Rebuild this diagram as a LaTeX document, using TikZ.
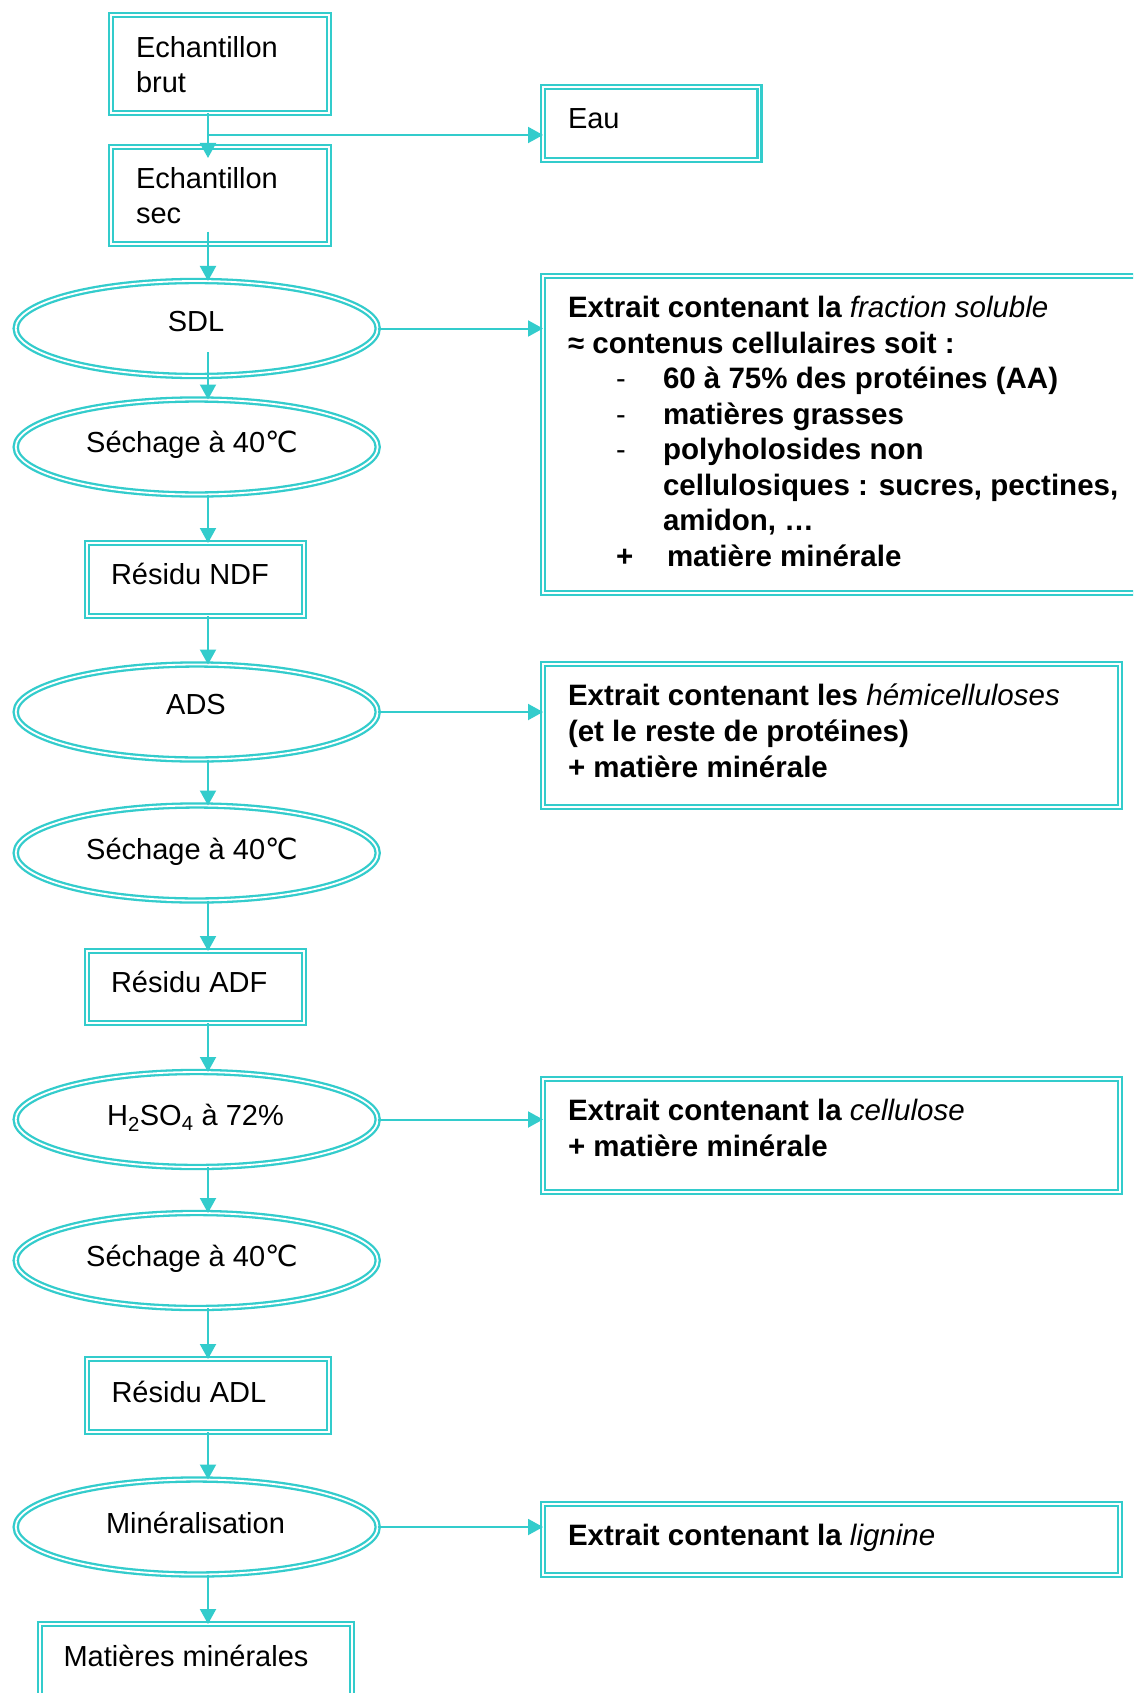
\documentclass[tikz,border=0pt]{standalone}
\usepackage{fontspec}
\setmainfont{Liberation Sans}
\newfontfamily\dejavu{DejaVu Sans}
\usetikzlibrary{arrows.meta,shapes.geometric}
\definecolor{tq}{RGB}{51,204,204}
\newcommand{\degC}{{\dejavu ℃}}
\begin{document}
\begin{tikzpicture}[x=1pt,y=-1pt,
  dbox/.style={draw=tq, double=white, line width=2.3pt, double distance=1.8pt, inner sep=0pt, outer sep=0pt, rectangle},
  dell/.style={draw=tq, double=white, line width=2.3pt, double distance=1.8pt, inner sep=0pt, outer sep=0pt, ellipse, minimum width=362pt, minimum height=95pt},
  lbl/.style={inner sep=0pt, outer sep=0pt, anchor=base west, yshift=-1.5pt, font=\fontsize{29}{34}\selectfont},
  clbl/.style={lbl, anchor=base},
  blbl/.style={lbl, font=\fontsize{29.5}{34}\selectfont\bfseries},
  arr/.style={draw=tq, line width=2pt, -{Triangle[width=16pt,length=15pt]}}
]
\clip (0,0) rectangle (1133,1693);
\fill[white] (0,0) rectangle (1133,1693);

% boxes
\node[dbox, minimum width=218pt, minimum height=98pt] (brut) at (220,64) {};
\node[dbox, minimum width=218pt, minimum height=97pt] (sec) at (220,195.5) {};
\node[dbox, minimum width=216.5pt, minimum height=73pt] (eau) at (651.25,123.5) {};
\node[dbox, minimum width=597pt, minimum height=317pt] (ext1) at (841.5,434.5) {};
\node[dbox, minimum width=217pt, minimum height=73pt] (ndf) at (195.5,579.5) {};
\node[dbox, minimum width=577pt, minimum height=143pt] (ext2) at (831.5,735.5) {};
\node[dbox, minimum width=217pt, minimum height=72pt] (adf) at (195.5,987) {};
\node[dbox, minimum width=577pt, minimum height=113pt] (ext3) at (831.5,1135.5) {};
\node[dbox, minimum width=242pt, minimum height=73pt] (adl) at (208,1395.5) {};
\node[dbox, minimum width=577pt, minimum height=71pt] (ext4) at (831.5,1539.5) {};
\node[dbox, minimum width=312pt, minimum height=86pt] (mat) at (196,1667) {};

% ellipses
\node[dell] (sdl) at (196.7,328.5) {};
\node[dell] (sech1) at (196.7,447) {};
\node[dell] (ads) at (196.7,712) {};
\node[dell] (sech2) at (196.7,853) {};
\node[dell] (hso) at (196.7,1119.5) {};
\node[dell] (sech3) at (196.7,1260.5) {};
\node[dell] (mineral) at (196.7,1527) {};

% helper coordinates
\coordinate (col) at (208,0);
\coordinate (br) at (208,135);
\coordinate (secin) at (208,158);
\coordinate (secout) at (208,231.7);
\coordinate (sdlout) at (208,352);

% connectors
\draw[arr] (col |- brut.south) -- (secin);
\draw[arr] (br) -- (br -| eau.west);
\draw[arr] (secout) -- (col |- sdl.north);
\draw[arr] (sdlout) -- (col |- sech1.north);
\draw[arr] (col |- sech1.south) -- (col |- ndf.north);
\draw[arr] (col |- ndf.south) -- (col |- ads.north);
\draw[arr] (col |- ads.south) -- (col |- sech2.north);
\draw[arr] (col |- sech2.south) -- (col |- adf.north);
\draw[arr] (col |- adf.south) -- (col |- hso.north);
\draw[arr] (col |- hso.south) -- (col |- sech3.north);
\draw[arr] (col |- sech3.south) -- (col |- adl.north);
\draw[arr] (col |- adl.south) -- (col |- mineral.north);
\draw[arr] (col |- mineral.south) -- (col |- mat.north);
\draw[arr] (sdl.east) -- (sdl.east -| ext1.west);
\draw[arr] (ads.east) -- (ads.east -| ext2.west);
\draw[arr] (hso.east) -- (hso.east -| ext3.west);
\draw[arr] (mineral.east) -- (mineral.east -| ext4.west);

% left column texts
\node[lbl] (t-brut1) at (136,56) {Echantillon};
\node[lbl] (t-brut2) at (136,90.7) {brut};
\node[lbl] (t-eau) at (568,127) {Eau};
\node[lbl] (t-sec1) at (136,187.5) {Echantillon};
\node[lbl] (t-sec2) at (136,222) {sec};
\node[clbl] (t-sdl) at (196,330) {SDL};
\node[clbl] (t-sech1) at (192,450.7) {Séchage à 40\degC};
\node[lbl] (t-ndf) at (111,583) {Résidu NDF};
\node[clbl] (t-ads) at (196,713) {ADS};
\node[clbl] (t-sech2) at (192,857.5) {Séchage à 40\degC};
\node[lbl] (t-adf) at (111,991) {Résidu ADF};
\node[clbl] (t-hso) at (195.5,1124) {H\textsubscript{2}SO\textsubscript{4} à 72\%};
\node[clbl] (t-sech3) at (192,1265) {Séchage à 40\degC};
\node[lbl] (t-adl) at (111.5,1400.5) {Résidu ADL};
\node[clbl] (t-min) at (195.5,1531.5) {Minéralisation};
\node[lbl] (t-mat) at (63.5,1665) {Matières minérales};

% extract box 1
\node[blbl] (e1a) at (568,316) {Extrait contenant la {\mdseries\itshape fraction soluble}};
\node[blbl] (e1b) at (568,351.5) {≈ contenus cellulaires soit :};
\node[lbl] (e1c-d) at (616,387) {-};
\node[blbl] (e1c) at (663,387) {60 à 75\% des protéines (AA)};
\node[lbl] (e1d-d) at (616,422.5) {-};
\node[blbl] (e1d) at (663,422.5) {matières grasses};
\node[lbl] (e1e-d) at (616,458) {-};
\node[blbl] (e1e) at (663,458) {polyholosides non};
\node[blbl] (e1f) at (663,493.5) {cellulosiques : sucres, pectines,};
\node[blbl] (e1g) at (663,529) {amidon, …};
\node[blbl] (e1h-p) at (616,564.5) {+};
\node[blbl] (e1h) at (667,564.5) {matière minérale};

% extract box 2
\node[blbl] (e2a) at (568,704) {Extrait contenant les {\mdseries\itshape hémicelluloses}};
\node[blbl] (e2b) at (568,740) {(et le reste de protéines)};
\node[blbl] (e2c) at (568,776) {+ matière minérale};

% extract box 3
\node[blbl] (e3a) at (568,1118.5) {Extrait contenant la {\mdseries\itshape cellulose}};
\node[blbl] (e3b) at (568,1154.5) {+ matière minérale};

% extract box 4
\node[blbl] (e4a) at (568,1543.5) {Extrait contenant la {\mdseries\itshape lignine}};
\end{tikzpicture}
\end{document}
